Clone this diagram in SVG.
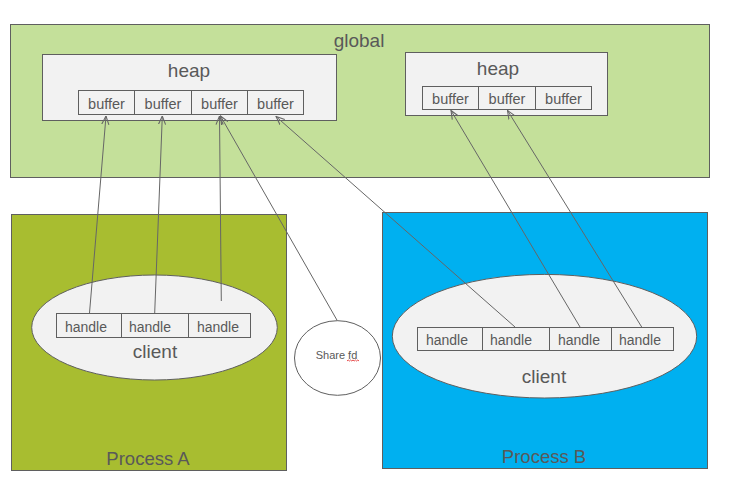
<svg xmlns="http://www.w3.org/2000/svg" width="730" height="487" viewBox="0 0 730 487">
<style>
  .box{stroke:#5f5f5f;stroke-width:1}
  .cell{fill:#f2f2f2;stroke:#5f5f5f;stroke-width:1}
  .t{font-family:"Liberation Sans",Arial,sans-serif;fill:#595959;text-anchor:middle}
  .big{font-size:19px}
  .small{font-size:14px}
  .buf{font-size:14.5px}
  .conn{stroke:#666;stroke-width:1;fill:none;marker-end:url(#arr)}
</style>
<defs>
  <marker id="arr" viewBox="0 0 10 10" refX="9.5" refY="5" markerWidth="9" markerHeight="9" markerUnits="userSpaceOnUse" orient="auto">
    <path d="M0,1 L9.5,5 L0,9" fill="none" stroke="#666" stroke-width="1.2"/>
  </marker>
</defs>
<rect width="730" height="487" fill="#ffffff"/>

<g id="global">
  <rect class="box" x="10.5" y="24.5" width="699" height="153" fill="#c4e09a"/>
  <text class="t big" x="359" y="47">global</text>
</g>

<g id="heap1">
  <rect class="cell" x="42.5" y="54.5" width="294" height="66"/>
  <text class="t big" x="189" y="77">heap</text>
  <rect class="cell" x="78.5" y="90.5" width="56" height="24"/>
  <rect class="cell" x="134.5" y="90.5" width="57" height="24"/>
  <rect class="cell" x="191.5" y="90.5" width="56" height="24"/>
  <rect class="cell" x="247.5" y="90.5" width="56" height="24"/>
  <text class="t buf" x="106.5" y="108.5">buffer</text>
  <text class="t buf" x="163" y="108.5">buffer</text>
  <text class="t buf" x="219.5" y="108.5">buffer</text>
  <text class="t buf" x="275.5" y="108.5">buffer</text>
</g>

<g id="heap2">
  <rect class="cell" x="405.5" y="52.5" width="202" height="63"/>
  <text class="t big" x="498" y="75">heap</text>
  <rect class="cell" x="422.5" y="86.5" width="56" height="23"/>
  <rect class="cell" x="478.5" y="86.5" width="57" height="23"/>
  <rect class="cell" x="535.5" y="86.5" width="56" height="23"/>
  <text class="t buf" x="450.5" y="104">buffer</text>
  <text class="t buf" x="507" y="104">buffer</text>
  <text class="t buf" x="563.5" y="104">buffer</text>
</g>

<g id="processA">
  <rect class="box" x="11.5" y="214.5" width="275" height="256" fill="#a8bd30"/>
  <text class="t" style="font-size:18.5px" x="148" y="465">Process A</text>
</g>

<g id="processB">
  <rect class="box" x="382.5" y="212.5" width="325" height="256" fill="#00b0f0"/>
  <text class="t" style="font-size:18.5px" x="544" y="463">Process B</text>
</g>

<g id="clientA">
  <ellipse cx="154.5" cy="327.5" rx="122.8" ry="52.5" fill="#f2f2f2" stroke="#5f5f5f"/>
  <rect class="cell" x="56.5" y="313.5" width="65" height="24"/>
  <rect class="cell" x="121.5" y="313.5" width="67" height="24"/>
  <rect class="cell" x="188.5" y="313.5" width="62" height="24"/>
  <text class="t small" x="86" y="331.5">handle</text>
  <text class="t small" x="150" y="331.5">handle</text>
  <text class="t small" x="218" y="331.5">handle</text>
  <text class="t big" x="155" y="357.5">client</text>
</g>

<g id="clientB">
  <ellipse cx="544.5" cy="336.2" rx="152.2" ry="61.8" fill="#f2f2f2" stroke="#5f5f5f"/>
  <rect class="cell" x="417.5" y="327.5" width="65" height="23"/>
  <rect class="cell" x="482.5" y="327.5" width="67" height="23"/>
  <rect class="cell" x="549.5" y="327.5" width="62" height="23"/>
  <rect class="cell" x="611.5" y="327.5" width="62" height="23"/>
  <text class="t small" x="447" y="345">handle</text>
  <text class="t small" x="511" y="345">handle</text>
  <text class="t small" x="579" y="345">handle</text>
  <text class="t small" x="640" y="345">handle</text>
  <text class="t big" x="544" y="383">client</text>
</g>

<g id="sharefd">
  <ellipse cx="337.5" cy="358" rx="43" ry="37.3" fill="#ffffff" stroke="#5f5f5f"/>
  <text class="t" style="font-size:11px" x="336.5" y="359">Share fd</text>
  <path d="M347,361 l1.2,-1 l1.2,1 l1.2,-1 l1.2,1 l1.2,-1 l1.2,1 l1.2,-1 l1.2,1 l1.2,-1 l1.2,1" fill="none" stroke="#e02020" stroke-width="0.8"/>
</g>

<g id="connectors">
  <line class="conn" x1="89.5" y1="313" x2="106" y2="116"/>
  <line class="conn" x1="154.7" y1="313" x2="162.3" y2="116"/>
  <line class="conn" x1="221.3" y1="301" x2="219.5" y2="116"/>
  <line class="conn" x1="337.3" y1="320.7" x2="220.5" y2="116"/>
  <line class="conn" x1="515" y1="327" x2="276" y2="116.5"/>
  <line class="conn" x1="580" y1="327" x2="451" y2="110.5"/>
  <line class="conn" x1="641.7" y1="327" x2="507.5" y2="110.5"/>
</g>
</svg>
